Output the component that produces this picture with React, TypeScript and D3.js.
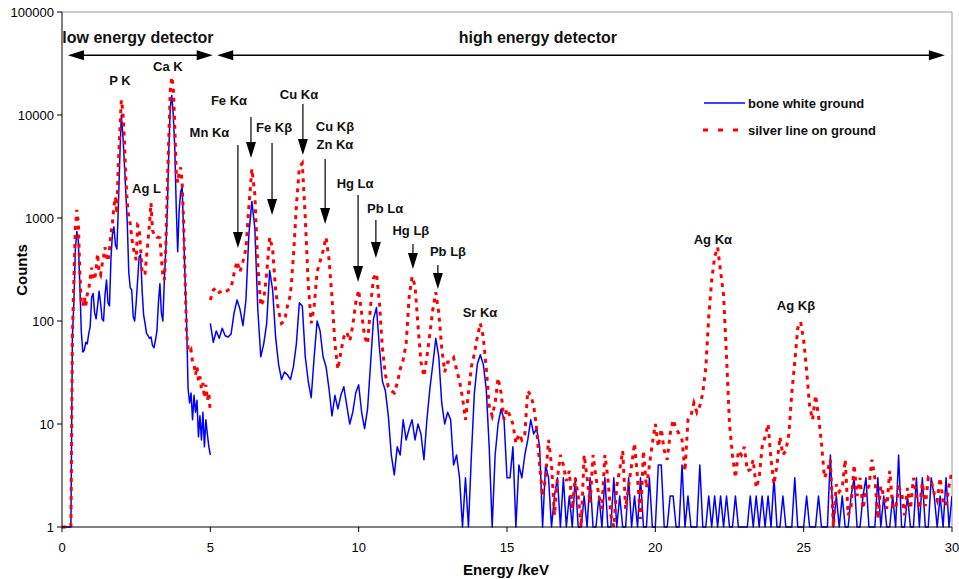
import React from 'react';
import * as d3 from 'd3';

// low energy detector channels: 0 to 5 keV, 0.05 keV apart
const lowStart = 0;
const lowStep = 0.05;
const lowBone = [
  1, 1, 1, 1, 1, 1, 1,
  70, 150, 500, 740, 600, 230, 80, 50, 52, 62, 60, 75, 88,
  170, 185, 120, 105, 140, 195, 150, 105, 100, 180,
  250, 150, 140, 400, 700, 820, 550, 500, 1300, 4000,
  10000, 6500, 3500, 1800, 900, 300, 210, 200, 110, 100,
  150, 250, 420, 440, 200, 115, 95, 76, 72, 68,
  70, 58, 55, 65, 80, 150, 230, 120, 100, 250,
  500, 1200, 4500, 12000, 15500, 10000, 5000, 1300, 470, 1200,
  1800, 2000, 700, 250, 95, 22, 16, 20, 11, 19,
  13, 17, 7.5, 12, 7, 13, 6, 11, 8, 6,
  5,
];
const lowSilver = [
  1, 1, 1, 1, 1, 1, 1,
  70, 250, 800, 1200, 900, 300, 150, 140, 170, 140, 180, 200, 260,
  330, 260, 250, 320, 450, 300, 280, 350, 420, 520,
  420, 380, 500, 700, 900, 1300, 1600, 1100, 3400, 7000,
  14000, 11000, 6000, 2500, 1400, 1000, 880, 650, 520, 450,
  390, 850, 820, 500, 300, 280, 290, 420, 600, 890,
  1400, 760, 700, 700, 650, 650, 640, 400, 280, 250,
  525, 2000, 6000, 17500, 23400, 19000, 8000, 2800, 2200, 2800,
  3100, 2200, 900, 250, 75, 55, 49, 52, 40, 38,
  30, 36, 26, 29, 22, 25, 18, 24, 17, 20,
  13,
];

// high energy detector channels: 5 to 30 keV, 0.1 keV apart
const highStart = 5;
const highStep = 0.1;
const highBone = [
  95, 62, 80, 68, 85, 72, 70, 75, 120, 160,
  130, 90, 160, 700, 1450, 800, 130, 45, 60, 95,
  310, 200, 70, 38, 27, 32, 30, 27, 36, 60,
  150, 140, 45, 26, 18, 45, 100, 80, 45, 36,
  22, 12, 19, 14, 19, 23, 15, 10, 13, 20,
  24, 13, 9, 14, 38, 105, 135, 55, 26, 21,
  12, 5, 3.2, 6, 5, 11, 7, 9, 11, 7,
  10, 8, 4.5, 11, 22, 38, 68, 45, 16, 10,
  13, 11, 4, 5, 3, 1, 3, 1, 5, 20,
  38, 47, 38, 22, 6, 1, 5, 10, 14, 11,
  3, 3, 6, 1, 4, 3, 5, 7, 11, 8,
  9, 6, 1, 4, 3, 1, 2, 3, 1, 3,
  1, 2, 1, 3, 1, 1, 2, 1, 3, 1,
  1, 2, 1, 3, 1, 1, 3, 1, 2, 1,
  1, 3, 1, 2, 1, 3, 1, 1, 3, 1,
  1, 4, 4, 1, 1, 2, 2, 1, 1, 4,
  1, 2, 1, 1, 1, 4, 1, 1, 2, 1,
  2, 1, 2, 1, 2, 1, 1, 2, 1, 1,
  1, 1, 2, 1, 2, 1, 2, 1, 2, 1,
  3, 1, 1, 2, 1, 1, 1, 3, 1, 1,
  1, 2, 1, 1, 1, 2, 1, 1, 1, 5,
  1, 2, 1, 2, 1, 1, 2, 3, 1, 1,
  2, 3, 1, 1, 1, 3, 1, 2, 1, 1,
  2, 1, 5, 1, 1, 2, 1, 1, 3, 1,
  3, 1, 1, 3, 2, 1, 2, 1, 3, 1,
  2,
];
const highSilver = [
  160, 200, 210, 190, 195, 190, 200, 210, 290, 380,
  300, 380, 500, 1300, 3000, 1700, 350, 140, 160, 290,
  650, 500, 200, 125, 95, 100, 140, 180, 420, 1300,
  3100, 3400, 1000, 230, 95, 140, 300, 380, 480, 650,
  400, 170, 60, 34, 50, 70, 78, 64, 90, 150,
  200, 120, 70, 60, 140, 260, 290, 150, 55, 30,
  23, 21, 20, 25, 34, 42, 60, 170, 270, 220,
  90, 40, 29, 45, 75, 130, 190, 120, 55, 32,
  40, 40, 44, 34, 26, 18, 11, 20, 36, 48,
  70, 95, 70, 35, 15, 12, 16, 28, 20, 11,
  14, 12, 10, 6.5, 8, 7, 8, 21, 19, 15,
  9, 4, 2, 3, 7, 4, 1.3, 3, 5, 4,
  2.8, 3.5, 1.5, 3, 2, 1, 5, 3, 1.7, 5,
  3, 2, 1.5, 5, 3, 1.3, 1, 2.5, 3.6, 5.5,
  1.5, 2.5, 4, 6.5, 3, 1.2, 5.5, 2.4, 4, 6.5,
  10, 6, 9, 5.5, 4.5, 8, 11, 9, 8, 7,
  3.5, 11, 12, 16, 13, 15, 20, 35, 110, 250,
  420, 520, 300, 180, 45, 10, 5, 3, 5.5, 5,
  6, 3.5, 3.6, 4.5, 2.4, 3, 6, 7.5, 10, 4.5,
  2.6, 4, 7.5, 5, 5.5, 8, 20, 40, 85, 98,
  65, 33, 15, 11, 19, 12, 6.5, 3, 3.5, 4.5,
  1, 2.6, 2.2, 2.4, 4.5, 1.3, 1.6, 4, 2, 3,
  1.5, 2.2, 2.5, 4.5, 3, 1.2, 2.5, 2, 1.5, 3.5,
  1.6, 1.5, 2.4, 2.2, 1.3, 2.4, 1.5, 3, 2, 1.5,
  2.7, 1.6, 3, 2.8, 2.1, 1.8, 3, 1.8, 1.6, 2.5,
  3.5,
];

const xTicks = [0, 5, 10, 15, 20, 25, 30];
const yTicks = [1, 10, 100, 1000, 10000, 100000];

// peak names, anchored in data space: [text, keV, counts]
const peakLabels: [string, number, number][] = [
  ['P K', 1.95, 19500],
  ['Ca K', 3.57, 27000],
  ['Ag L', 2.85, 1750],
  ['Fe Kα', 5.63, 12500],
  ['Mn Kα', 4.97, 6100],
  ['Fe Kβ', 7.15, 6800],
  ['Cu Kα', 7.99, 14300],
  ['Cu Kβ', 9.2, 7000],
  ['Zn Kα', 9.2, 4680],
  ['Hg Lα', 9.88, 1950],
  ['Pb Lα', 10.89, 1120],
  ['Hg Lβ', 11.76, 684],
  ['Pb Lβ', 13.01, 428],
  ['Sr Kα', 14.09, 109],
  ['Ag Kα', 21.94, 560],
  ['Ag Kβ', 24.74, 128],
];

// pointer arrows: [keV, from counts, tip counts]
const peakArrows: [number, number, number][] = [
  [5.93, 5100, 510],
  [6.37, 9570, 3820],
  [7.08, 5350, 1070],
  [8.12, 12800, 4090],
  [8.87, 3740, 875],
  [9.98, 1670, 239],
  [10.58, 956, 409],
  [11.83, 559, 320],
  [12.67, 350, 205],
];

const detectors: [string, number, number, number][] = [
  ['low energy detector', 0.2, 5.08, 2.56],
  ['high energy detector', 5.23, 29.76, 16.04],
];

const W = 959;
const H = 579;
const font = '"Liberation Sans", Arial, sans-serif';

const x = d3.scaleLinear().domain([0, 30]).range([62, 952]);
const y = d3.scaleLog().domain([1, 100000]).range([527, 12]);

const line = d3
  .line<[number, number]>()
  .x(d => x(d[0]))
  .y(d => y(Math.max(1, d[1])));

const toPoints = (start: number, step: number, vals: number[]) =>
  vals.map((v, i) => [start + i * step, v] as [number, number]);

const App = () => {
  const bonePaths = [
    line(toPoints(lowStart, lowStep, lowBone)),
    line(toPoints(highStart, highStep, highBone)),
  ];
  const silverPaths = [
    line(toPoints(lowStart, lowStep, lowSilver)),
    line(toPoints(highStart, highStep, highSilver)),
  ];
  const detY = y(38000);
  const detTextY = y(50000);

  return (
    <svg width={W} height={H} style={{ position: 'absolute', left: 0, top: 0 }} fontFamily={font}>
      <rect width={W} height={H} fill="#fff" />
      <defs>
        <clipPath id="plot">
          <rect x={62} y={12} width={890} height={521} />
        </clipPath>
      </defs>

      {/* frame */}
      <line x1={62} x2={952} y1={12} y2={12} stroke="#9a9a9a" />
      <line x1={952} x2={952} y1={12} y2={527} stroke="#9a9a9a" />

      {/* series */}
      <g clipPath="url(#plot)" fill="none">
        {bonePaths.map((d, i) => (
          <path key={'b' + i} d={d || ''} stroke="#0000ff" strokeWidth={1.5} strokeLinejoin="round" />
        ))}
        {silverPaths.map((d, i) => (
          <path key={'s' + i} d={d || ''} stroke="#ff0000" strokeWidth={3} strokeDasharray="4,5" />
        ))}
      </g>

      {/* axes */}
      <line x1={62} x2={62} y1={12} y2={527} stroke="#000" />
      <line x1={62} x2={952} y1={527} y2={527} stroke="#000" />
      {yTicks.map(t => (
        <g key={'y' + t}>
          <line x1={57} x2={62} y1={y(t)} y2={y(t)} stroke="#000" />
          <text x={54} y={y(t)} dy="0.35em" textAnchor="end" fontSize={13} fill="#000">
            {t}
          </text>
        </g>
      ))}
      {xTicks.map(t => (
        <g key={'x' + t}>
          <line x1={x(t)} x2={x(t)} y1={527} y2={532} stroke="#000" />
          <text x={x(t)} y={552} textAnchor="middle" fontSize={13} fill="#000">
            {t}
          </text>
        </g>
      ))}
      <text x={506} y={575} textAnchor="middle" fontSize={15} fontWeight="bold">
        Energy /keV
      </text>
      <text transform="translate(27,270) rotate(-90)" textAnchor="middle" fontSize={15} fontWeight="bold">
        Counts
      </text>

      {/* detector ranges */}
      {detectors.map(([label, a, b, mid]) => (
        <g key={label}>
          <line x1={x(a) + 14} x2={x(b) - 14} y1={detY} y2={detY} stroke="#000" strokeWidth={1.5} />
          <path d={`M${x(a)},${detY} L${x(a) + 16},${detY - 5} L${x(a) + 16},${detY + 5} Z`} fill="#000" />
          <path d={`M${x(b)},${detY} L${x(b) - 16},${detY - 5} L${x(b) - 16},${detY + 5} Z`} fill="#000" />
          <text x={x(mid)} y={detTextY} textAnchor="middle" fontSize={16} fontWeight="bold" fill="#111">
            {label}
          </text>
        </g>
      ))}

      {/* peak pointers */}
      {peakArrows.map(([e, from, tip]) => {
        const px = x(e);
        const y0 = y(from);
        const y1 = y(tip);
        return (
          <g key={'a' + e}>
            <line x1={px} x2={px} y1={y0} y2={y1 - 14} stroke="#000" strokeWidth={1.2} />
            <path d={`M${px - 5},${y1 - 16} L${px + 5},${y1 - 16} L${px},${y1} Z`} fill="#000" />
          </g>
        );
      })}
      {peakLabels.map(([t, e, c]) => (
        <text key={t} x={x(e)} y={y(c)} textAnchor="middle" fontSize={13} fontWeight="bold" fill="#111">
          {t}
        </text>
      ))}

      {/* legend */}
      <line x1={704} x2={745} y1={103} y2={103} stroke="#0000ff" strokeWidth={1.5} />
      <text x={748} y={108} fontSize={13} fontWeight="bold" fill="#111">
        bone white ground
      </text>
      <line x1={703} x2={742} y1={130} y2={130} stroke="#ff0000" strokeWidth={3} strokeDasharray="5,10" />
      <text x={748} y={135} fontSize={13} fontWeight="bold" fill="#111">
        silver line on ground
      </text>
    </svg>
  );
};

export default App;
